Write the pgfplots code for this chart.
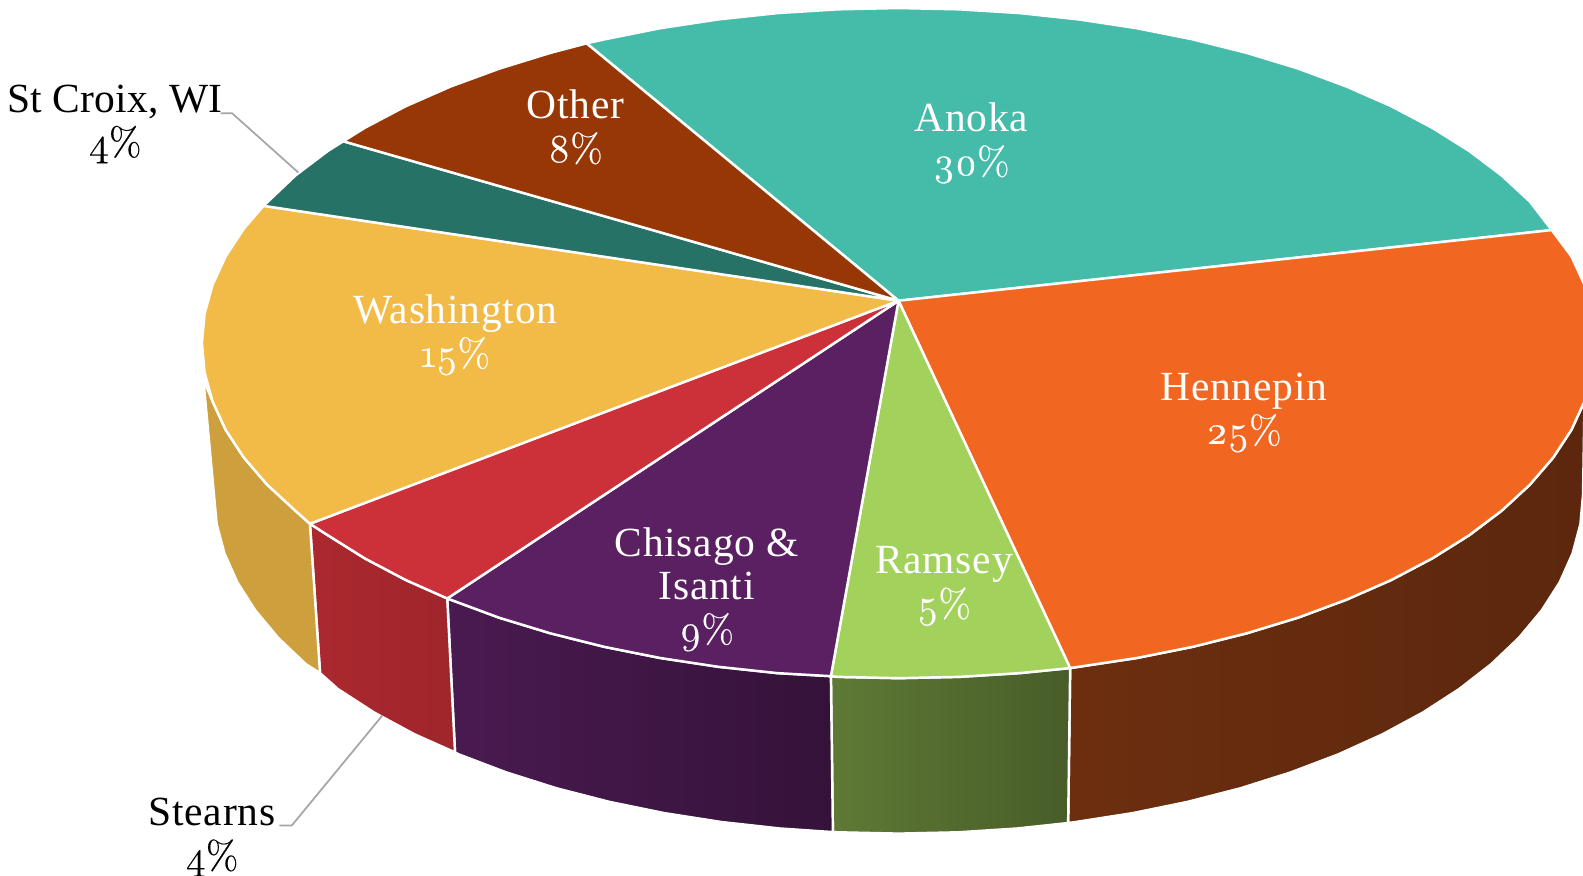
\documentclass[border=0pt]{standalone}
\usepackage{fontspec}
\setmainfont{Liberation Serif}[LetterSpace=1.9]
\newfontfamily\onum[Numbers=OldStyle,Scale=0.96,FakeBold=0.25]{Latin Modern Roman}
\usepackage{pgfplots}
\pgfplotsset{compat=1.18}

\definecolor{anoka}{HTML}{44BCA9}
\definecolor{hennepin}{HTML}{F16722}
\definecolor{ramsey}{HTML}{A3D25C}
\definecolor{chisago}{HTML}{5A2062}
\definecolor{stearns}{HTML}{CC3038}
\definecolor{washington}{HTML}{F2BB48}
\definecolor{stcroix}{HTML}{277266}
\definecolor{other}{HTML}{983706}

\newcommand{\pct}[1]{{\onum #1\%}}

\begin{document}
\begin{tikzpicture}[
    lab/.style={font=\fontsize{11.8}{12.35}\selectfont, align=center, text=white, inner sep=0pt},
    labk/.style={lab, text=black},
]
\path[use as bounding box] (0,0) rectangle (15.83cm,8.76cm);
\begin{axis}[
    at={(0,0)}, anchor=south west,
    scale only axis,
    width=15.83cm, height=8.76cm,
    xmin=0, xmax=1568,
    ymin=0, ymax=868,
    y dir=reverse,
    hide axis,
    no markers,
    every axis plot/.append style={draw=white, line width=0.7pt, line join=round},
]
% side walls, pixel positions
\addplot[left color=hennepin!45!black, right color=hennepin!38!black] coordinates {
    (1569.5,397.6) (1556.5,425.9) (1538.4,453.5) (1515.3,480.3) (1487.5,506) (1455.2,530.4)
    (1418.5,553.4) (1377.9,574.8) (1333.5,594.3) (1285.8,612) (1235,627.5) (1181.6,640.9)
    (1126,652) (1068.6,660.7) (1060,662) (1058,815.5) (1065.5,814.5) (1121.9,805.7)
    (1176.5,794.5) (1229,781) (1278.9,765.2) (1325.8,747.4) (1369.4,727.6) (1409.4,706)
    (1445.4,682.7) (1477.2,658) (1504.5,632) (1527.1,604.9) (1544.9,577) (1557.7,548.3)
    (1565.4,519.3) (1568,490)
} -- cycle;
\addplot[left color=ramsey!58!black, right color=ramsey!44!black] coordinates {
    (1060,662) (1009.8,667) (950.2,670.7) (890,672) (829.8,670.7) (823,670)
    (825,824.5) (830.9,824.7) (890,826) (949.1,824.7) (1007.7,820.9) (1058,815.5)
} -- cycle;
\addplot[left color=chisago!82!black, right color=chisago!58!black] coordinates {
    (823,670) (770.2,667) (711.4,660.7) (654,652) (598.4,640.9) (545,627.5) (494.2,612)
    (446.5,594.3) (443,593) (450.7,745.5) (454.2,747.4) (501.1,765.2) (551,781)
    (603.5,794.5) (658.1,805.7) (714.5,814.5) (772.3,820.9) (825,824.5)
} -- cycle;
\addplot[left color=stearns!84!black, right color=stearns!78!black] coordinates {
    (443,593) (402.1,574.8) (361.5,553.4) (324.8,530.4) (307,519) (317,667)
    (334.6,682.7) (370.6,706) (410.6,727.6) (450.7,745.5)
} -- cycle;
\addplot[fill=washington!85!black] coordinates {
    (307,519) (292.5,506) (264.7,480.3) (241.6,453.5) (223.5,425.9) (210.5,397.6) (201.4,375.7)
    (214.6,519.3) (222.3,548.3) (235.1,577) (252.9,604.9) (275.5,632) (302.8,658) (317,667)
} -- cycle;
% top of the pie
\addplot[fill=anoka] coordinates {
    (890,298) (581,43) (598.4,39.1) (654,28) (711.4,19.3) (770.2,13) (829.8,9.3) (890,8)
    (950.2,9.3) (1009.8,13) (1068.6,19.3) (1126,28) (1181.6,39.1) (1235,52.5) (1285.8,68)
    (1333.5,85.7) (1377.9,105.2) (1418.5,126.6) (1455.2,149.6) (1487.5,174) (1515.3,199.7)
    (1537,228)
} -- cycle;
\addplot[fill=hennepin] coordinates {
    (890,298) (1537,228) (1556.5,254.1) (1569.5,282.4) (1577.4,311) (1580,340) (1577.4,369)
    (1569.5,397.6) (1556.5,425.9) (1538.4,453.5) (1515.3,480.3) (1487.5,506) (1455.2,530.4)
    (1418.5,553.4) (1377.9,574.8) (1333.5,594.3) (1285.8,612) (1235,627.5) (1181.6,640.9)
    (1126,652) (1068.6,660.7) (1060,662)
} -- cycle;
\addplot[fill=ramsey] coordinates {
    (890,298) (1060,662) (1009.8,667) (950.2,670.7) (890,672) (829.8,670.7) (823,670)
} -- cycle;
\addplot[fill=chisago] coordinates {
    (890,298) (823,670) (770.2,667) (711.4,660.7) (654,652) (598.4,640.9) (545,627.5)
    (494.2,612) (446.5,594.3) (443,593)
} -- cycle;
\addplot[fill=stearns] coordinates {
    (890,298) (443,593) (402.1,574.8) (361.5,553.4) (324.8,530.4) (307,519)
} -- cycle;
\addplot[fill=washington] coordinates {
    (890,298) (307,519) (292.5,506) (264.7,480.3) (241.6,453.5) (223.5,425.9) (210.5,397.6)
    (202.6,369) (200,340) (202.6,311) (210.5,282.4) (223.5,254.1) (241.6,226.5) (261,204)
} -- cycle;
\addplot[fill=stcroix] coordinates {
    (890,298) (261,204) (292.5,174) (324.8,149.6) (340,140)
} -- cycle;
\addplot[fill=other] coordinates {
    (890,298) (340,140) (361.5,126.6) (402.1,105.2) (446.5,85.7) (494.8,68) (545,52.5) (581,43)
} -- cycle;
% leader lines
\addplot[draw=black!35, line width=0.5pt] coordinates {(218.6,112.3) (230,112.3) (295.5,171)};
\addplot[draw=black!35, line width=0.5pt] coordinates {(276.7,818) (289,818) (378.7,709)};
% labels
\node[lab] at (axis cs:962,142) {Anoka\\\pct{30}};
\node[lab] at (axis cs:1232,409) {Hennepin\\\pct{25}};
\node[lab] at (axis cs:935,581) {Ramsey\\\pct{5}};
\node[lab] at (axis cs:700,584) {Chisago \&\\Isanti\\\pct{9}};
\node[lab] at (axis cs:451,332) {Washington\\\pct{15}};
\node[lab] at (axis cs:570,126) {Other\\\pct{8}};
\node[labk] at (axis cs:114,123) {\addfontfeature{LetterSpace=0.6}St Croix, WI\\\pct{4}};
\node[labk] at (axis cs:210,830) {Stearns\\\pct{4}};
\end{axis}
\end{tikzpicture}
\end{document}
